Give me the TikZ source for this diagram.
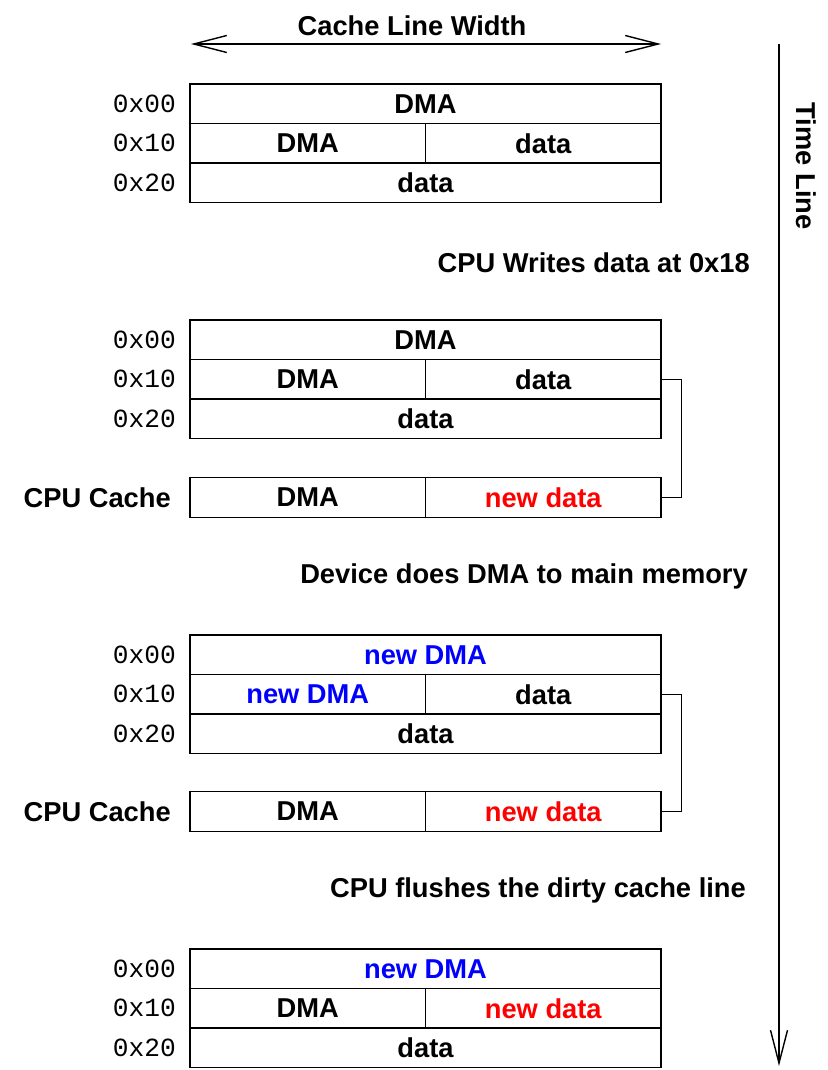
\documentclass[tikz,border=0pt]{standalone}
\usepackage{fontspec}
\setmainfont{Liberation Sans}
\setmonofont{Liberation Mono}
\usetikzlibrary{arrows.meta}
\begin{document}
\begin{tikzpicture}[x=1pt,y=-1pt,
  bigfont/.style={font=\fontsize{27.3}{30}\selectfont\bfseries},
  cell/.style={draw, line width=1.4pt, inner sep=0pt, minimum height=39.5pt, bigfont},
  full/.style={cell, minimum width=471pt},
  half/.style={cell, minimum width=235.5pt},
  addr/.style={anchor=east, inner sep=0pt, font=\fontsize{26.2}{28}\selectfont\ttfamily},
  lbl/.style={anchor=east, inner sep=0pt, bigfont},
  captxt/.style={anchor=east, inner sep=0pt, bigfont},
  arr/.style={line width=1.4pt, -{Straight Barb[length=33pt,width=17pt,line width=1.4pt]}},
  brk/.style={line width=1.4pt},
  newd/.style={text=red},
  newdma/.style={text=blue}
]
\useasboundingbox (0,0) rectangle (827,1070);

% top arrow
\coordinate (clwL) at (191,44);
\coordinate (clwR) at (661,44);
\draw[line width=1.4pt, {Straight Barb[length=33pt,width=17pt,line width=1.4pt]}-{Straight Barb[length=33pt,width=17pt,line width=1.4pt]}] (clwL) -- (clwR);
\node[bigfont] (clw) at (412,26) {Cache Line Width};

% time line
\coordinate (tlT) at (779,44);
\coordinate (tlB) at (779,1066);
\draw[arr] (tlT) -- (tlB);
\node[rotate=-90, bigfont] (tl) at (806,166) {Time Line};

% Block 1 (top 84)
\node[full] (a0) at (425.5,103.75) {DMA};
\node[half] (a1l) at (307.75,143.25) {DMA};
\node[half] (a1r) at (543.25,143.25) {data};
\node[full] (a2) at (425.5,182.75) {data};
\node[addr] (la0) at (176,103.75) {0x00};
\node[addr] (la1) at (176,143.25) {0x10};
\node[addr] (la2) at (176,182.75) {0x20};

\node[captxt] (c1) at (750,263) {CPU Writes data at 0x18};

% Block 2 (top 320)
\node[full] (b0) at (425.5,339.75) {DMA};
\node[half] (b1l) at (307.75,379.25) {DMA};
\node[half] (b1r) at (543.25,379.25) {data};
\node[full] (b2) at (425.5,418.75) {data};
\node[addr] (lb0) at (176,339.75) {0x00};
\node[addr] (lb1) at (176,379.25) {0x10};
\node[addr] (lb2) at (176,418.75) {0x20};
\node[half] (bcl) at (307.75,497.5) {DMA};
\node[half, newd] (bcr) at (543.25,497.5) {new data};
\node[lbl] (lbc) at (171,497.5) {CPU Cache};
\draw[brk] (b1r.east) -- ++(20,0) |- (bcr.east);

\node[captxt] (c2) at (748,576) {Device does DMA to main memory};

% Block 3 (top 635)
\node[full, newdma] (d0) at (425.5,654.75) {new DMA};
\node[half, newdma] (d1l) at (307.75,694.25) {new DMA};
\node[half] (d1r) at (543.25,694.25) {data};
\node[full] (d2) at (425.5,733.75) {data};
\node[addr] (ld0) at (176,654.75) {0x00};
\node[addr] (ld1) at (176,694.25) {0x10};
\node[addr] (ld2) at (176,733.75) {0x20};
\node[half] (dcl) at (307.75,811.5) {DMA};
\node[half, newd] (dcr) at (543.25,811.5) {new data};
\node[lbl] (ldc) at (171,811.5) {CPU Cache};
\draw[brk] (d1r.east) -- ++(20,0) |- (dcr.east);

\node[captxt] (c3) at (746,890) {CPU flushes the dirty cache line};

% Block 4 (top 949)
\node[full, newdma] (e0) at (425.5,968.75) {new DMA};
\node[half] (e1l) at (307.75,1008.25) {DMA};
\node[half, newd] (e1r) at (543.25,1008.25) {new data};
\node[full] (e2) at (425.5,1047.75) {data};
\node[addr] (le0) at (176,968.75) {0x00};
\node[addr] (le1) at (176,1008.25) {0x10};
\node[addr] (le2) at (176,1047.75) {0x20};
\end{tikzpicture}
\end{document}
